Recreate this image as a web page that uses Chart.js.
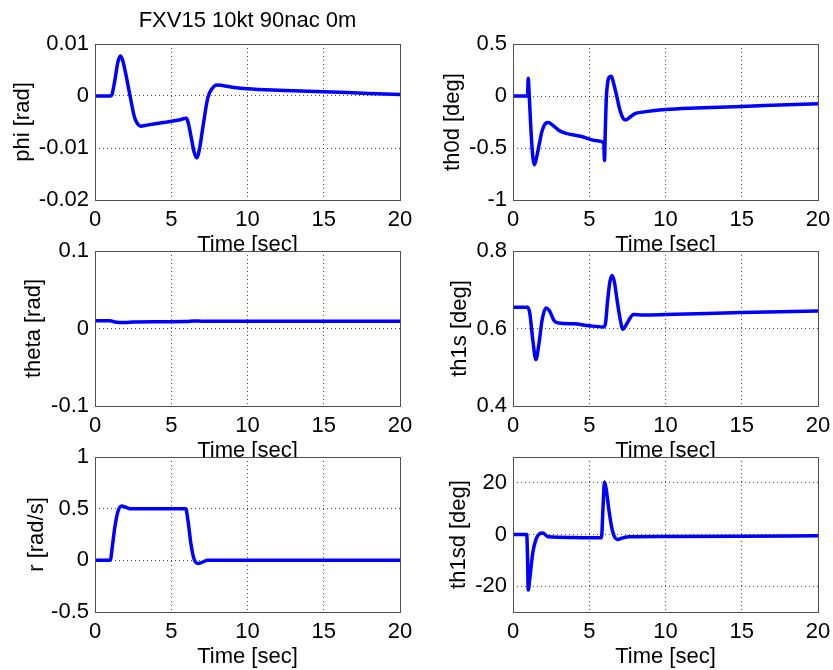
<!DOCTYPE html>
<html>
<head>
<meta charset="utf-8">
<script src="https://cdn.jsdelivr.net/npm/chart.js@4.4.0/dist/chart.umd.min.js"></script>
<style>
  body { margin: 0; background: #fff; }
  #fig { position: relative; width: 833px; height: 670px; overflow: hidden; background: #fff; }
  #fig canvas { position: absolute; }
</style>
</head>
<body>
<div id="fig"></div>
<script>
// ---- data ----
const figTitle = 'FXV15 10kt 90nac 0m';
const timeTicks = [0, 5, 10, 15, 20];

// phi [rad]
const phiTime = [0, 1.0, 1.1, 1.3, 1.5, 1.65, 1.8, 2.0, 2.3, 2.6, 2.8, 3.0, 3.4, 4.5, 5.5, 6.0, 6.1, 6.3, 6.5, 6.67, 6.85, 7.1, 7.4, 7.7, 8.0, 9.0, 10, 12, 15, 18, 20];
const phiVals = [0, 0, 0.0002, 0.003, 0.0065, 0.0077, 0.007, 0.0045, 0.0, -0.0042, -0.0054, -0.0058, -0.0056, -0.0051, -0.0046, -0.0043, -0.005, -0.0078, -0.0108, -0.0119, -0.0102, -0.0055, -0.0003, 0.0015, 0.0021, 0.0017, 0.0014, 0.0011, 0.0008, 0.0005, 0.0003];
const phiTicks = [-0.02, -0.01, 0, 0.01];

// th0d [deg]
const th0dTime = [0, 0.95, 1.0, 1.05, 1.15, 1.25, 1.4, 1.5, 1.7, 1.9, 2.1, 2.3, 2.6, 3.0, 3.5, 4.5, 5.5, 5.95, 6.0, 6.05, 6.12, 6.2, 6.3, 6.45, 6.6, 6.8, 7.0, 7.2, 7.4, 7.7, 8.0, 8.5, 10, 12, 15, 18, 20];
const th0dVals = [0, 0, 0.17, 0.05, -0.25, -0.5, -0.66, -0.62, -0.48, -0.34, -0.27, -0.255, -0.28, -0.33, -0.36, -0.39, -0.43, -0.45, -0.62, -0.35, -0.02, 0.12, 0.18, 0.19, 0.12, 0.0, -0.13, -0.21, -0.23, -0.2, -0.17, -0.155, -0.13, -0.115, -0.1, -0.085, -0.075];
const th0dTicks = [-1, -0.5, 0, 0.5];

// theta [rad]
const thetaTime = [0, 1.0, 1.3, 2.0, 2.5, 4.0, 6.0, 6.5, 7.0, 10, 15, 20];
const thetaVals = [0.01, 0.01, 0.0085, 0.0078, 0.0085, 0.0088, 0.009, 0.0098, 0.0095, 0.0093, 0.0093, 0.0093];
const thetaTicks = [-0.1, 0, 0.1];

// th1s [deg]
const th1sTime = [0, 0.95, 1.1, 1.3, 1.5, 1.7, 1.9, 2.15, 2.4, 2.7, 3.0, 4.0, 5.0, 5.9, 6.05, 6.2, 6.35, 6.5, 6.65, 6.8, 7.0, 7.2, 7.5, 7.9, 8.5, 10, 15, 20];
const th1sVals = [0.655, 0.655, 0.64, 0.57, 0.52, 0.56, 0.62, 0.653, 0.645, 0.62, 0.614, 0.612, 0.607, 0.604, 0.61, 0.67, 0.72, 0.737, 0.72, 0.68, 0.63, 0.598, 0.615, 0.636, 0.635, 0.636, 0.641, 0.645];
const th1sTicks = [0.4, 0.6, 0.8];

// r [rad/s]
const rTime = [0, 1.0, 1.15, 1.3, 1.5, 1.75, 2.0, 2.3, 3.0, 5.0, 5.95, 6.1, 6.3, 6.5, 6.75, 7.0, 7.4, 10, 20];
const rVals = [0, 0, 0.15, 0.32, 0.47, 0.525, 0.515, 0.5, 0.5, 0.5, 0.5, 0.38, 0.15, 0.01, -0.03, -0.02, 0, 0, 0];
const rTicks = [-0.5, 0, 0.5, 1];

// th1sd [deg]
const th1sdTime = [0, 0.9, 0.95, 1.0, 1.1, 1.3, 1.5, 1.75, 1.95, 2.3, 3.0, 5.8, 5.9, 6.0, 6.1, 6.3, 6.5, 6.65, 6.85, 7.2, 7.6, 10, 15, 20];
const th1sdVals = [0, 0, -8, -21.5, -17, -7, -2, 0.3, 0.6, -0.9, -1.1, -1.3, 10, 20.3, 18, 9, 2, -0.8, -1.9, -1.3, -0.9, -0.8, -0.7, -0.5];
const th1sdTicks = [-20, 0, 20];

Chart.defaults.font.family = "'Liberation Sans', Arial, sans-serif";
Chart.defaults.font.size = 22;
Chart.defaults.color = '#000';

// white axes background + box, like matlab
const axesBox = {
  id: 'axesBox',
  beforeDraw(chart) {
    const a = chart.chartArea, ctx = chart.ctx;
    ctx.save();
    ctx.fillStyle = '#fff';
    ctx.fillRect(a.left, a.top, a.right - a.left, a.bottom - a.top);
    ctx.restore();
  },
  afterDraw(chart) {
    const a = chart.chartArea, ctx = chart.ctx;
    ctx.save();
    ctx.strokeStyle = '#505050';
    ctx.lineWidth = 1;
    ctx.strokeRect(Math.floor(a.left) + 0.5, Math.floor(a.top) + 0.5,
      Math.round(a.right - a.left), Math.round(a.bottom - a.top));
    ctx.restore();
  }
};

const fig = document.getElementById('fig');

function panel(p) {
  const cv = document.createElement('canvas');
  cv.width = p.w; cv.height = p.h;
  cv.style.left = p.left + 'px';
  cv.style.top = p.top + 'px';
  fig.appendChild(cv);

  const pts = p.time.map((t, i) => ({ x: t, y: p.vals[i] }));
  const ticks = p.ticks;

  return new Chart(cv, {
    type: 'line',
    data: {
      datasets: [{
        data: pts,
        borderColor: '#0000ff',
        borderWidth: 3.5,
        pointRadius: 0,
        fill: false,
        cubicInterpolationMode: 'monotone'
      }]
    },
    options: {
      responsive: false,
      animation: false,
      devicePixelRatio: 1,
      layout: { padding: { left: 0, top: p.padTop, right: p.padRight, bottom: 0 } },
      plugins: {
        legend: { display: false },
        tooltip: { enabled: false },
        title: p.title ? {
          display: true, text: p.title, fullSize: false,
          font: { size: 22, weight: 'normal' }, color: '#000',
          padding: { top: 7.8, bottom: 9.8 }
        } : { display: false }
      },
      scales: {
        x: {
          type: 'linear', min: 0, max: 20,
          afterBuildTicks: s => { s.ticks = timeTicks.map(v => ({ value: v })); },
          afterFit: s => { s.height = 58; s.paddingLeft = 0; s.paddingRight = 0; },
          ticks: { padding: p.xPad, maxRotation: 0, autoSkip: false, callback: v => String(v) },
          grid: { color: 'rgba(0,0,0,0.7)', drawTicks: false, lineWidth: 1 },
          border: { display: false, dash: [1, 3] },
          title: { display: true, text: 'Time [sec]', font: { size: 22 }, padding: { top: 0, bottom: 0 } }
        },
        y: {
          type: 'linear', min: p.min, max: p.max,
          afterBuildTicks: s => { s.ticks = ticks.map(v => ({ value: v })); },
          afterFit: s => { s.width = 95; s.paddingTop = 0; s.paddingBottom = 0; },
          ticks: { padding: 6, autoSkip: false, callback: v => String(v) },
          grid: { color: 'rgba(0,0,0,0.7)', drawTicks: false, lineWidth: 1 },
          border: { display: false, dash: [1, 3] },
          title: { display: true, text: p.ylabel, font: { size: 22 }, padding: { top: p.yTitlePad, bottom: 0 } }
        }
      }
    },
    plugins: [axesBox]
  });
}

// row 1
panel({ left: 0, top: 0, w: 416, h: 258, padTop: 0, padRight: 16, xPad: 7, yTitlePad: 9.8,
  time: phiTime, vals: phiVals, min: -0.02, max: 0.01, ticks: phiTicks, ylabel: 'phi [rad]', title: figTitle });
panel({ left: 418, top: 0, w: 415, h: 258, padTop: 44, padRight: 15, xPad: 7, yTitlePad: 21.3,
  time: th0dTime, vals: th0dVals, min: -1, max: 0.5, ticks: th0dTicks, ylabel: 'th0d [deg]' });
// row 2
panel({ left: 0, top: 230, w: 416, h: 234, padTop: 21, padRight: 16, xPad: 7, yTitlePad: 20.8,
  time: thetaTime, vals: thetaVals, min: -0.1, max: 0.1, ticks: thetaTicks, ylabel: 'theta [rad]' });
panel({ left: 418, top: 230, w: 415, h: 234, padTop: 21, padRight: 15, xPad: 7, yTitlePad: 28.5,
  time: th1sTime, vals: th1sVals, min: 0.4, max: 0.8, ticks: th1sTicks, ylabel: 'th1s [deg]' });
// row 3
panel({ left: 0, top: 436, w: 416, h: 234, padTop: 21, padRight: 16, xPad: 7, yTitlePad: 23.8,
  time: rTime, vals: rVals, min: -0.5, max: 1, ticks: rTicks, ylabel: 'r [rad/s]' });
panel({ left: 418, top: 436, w: 415, h: 234, padTop: 21, padRight: 15, xPad: 7, yTitlePad: 27.6,
  time: th1sdTime, vals: th1sdVals, min: -30, max: 30, ticks: th1sdTicks, ylabel: 'th1sd [deg]' });
</script>
</body>
</html>
